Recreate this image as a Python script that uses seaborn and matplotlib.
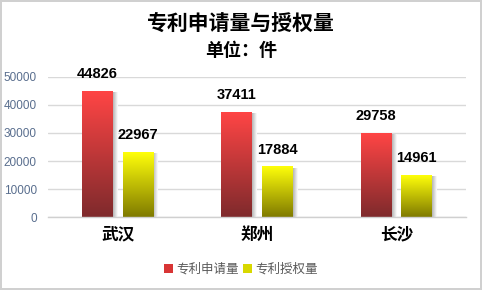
import matplotlib
matplotlib.use("Agg")
import matplotlib.pyplot as plt
import seaborn as sns
import numpy as np
import pandas as pd
from matplotlib.colors import LinearSegmentedColormap
from matplotlib.patches import Patch

cities = ["武汉", "郑州", "长沙"]
series_names = ["专利申请量", "专利授权量"]
applications = [44826, 37411, 29758]
grants = [22967, 17884, 14961]
yticks = [0, 10000, 20000, 30000, 40000, 50000]

sns.set_theme(style="white")
plt.rcParams['font.family'] = ['Noto Sans CJK SC', 'DejaVu Sans']

df = pd.DataFrame({
    "city": cities * 2,
    "series": [series_names[0]] * 3 + [series_names[1]] * 3,
    "value": applications + grants,
})

fig = plt.figure(figsize=(4.82, 2.90), dpi=100)
fig.patch.set_edgecolor("#d0d0d0")
fig.patch.set_linewidth(1.5)
ax = fig.add_axes([0.0996, 0.2517, 0.8674, 0.4828])

sns.barplot(data=df, x="city", y="value", hue="series", ax=ax,
            palette=["#ff4444", "#ffff00"], width=0.58, gap=0.24,
            legend=False, saturation=1)

grads = {
    0: LinearSegmentedColormap.from_list("r", ["#7e2a2c", "#ff4545"]),
    1: LinearSegmentedColormap.from_list("y", ["#7f7a00", "#ffff0a"]),
}
shadow_cmap = LinearSegmentedColormap.from_list("s", ["#b4b4b4", "#ffffff"])
grad = np.linspace(0, 1, 256).reshape(-1, 1)
hgrad = np.linspace(0, 1, 64).reshape(1, -1)

patches = list(ax.patches)
for i, p in enumerate(patches):
    s = i // 3
    x0, y0 = p.get_x(), p.get_y()
    w, h = p.get_width(), p.get_height()
    ax.imshow(hgrad, cmap=shadow_cmap, aspect="auto", origin="lower",
              extent=[x0 + w, x0 + w + 0.035, y0, y0 + h - 400], zorder=1.5)
    ax.imshow(grad, cmap=grads[s], aspect="auto", origin="lower",
              extent=[x0, x0 + w, y0, y0 + h], zorder=2, clip_path=p, clip_on=True)
    p.set_facecolor("none")
    p.set_edgecolor("none")
    ax.text(x0 + w / 2, y0 + h + 3700, f"{int(h)}", ha="center", va="bottom",
            fontsize=10.5, fontweight="bold", color="black", zorder=3,
            family=["Liberation Sans"])

ax.set_xlim(-0.5, 2.5)
ax.set_ylim(0, 50000)
ax.set_yticks(yticks)
ax.set_yticklabels([str(t) for t in yticks], color="#596e8e", fontsize=8.5,
                   family=["Liberation Sans"])
ax.tick_params(axis="y", length=0, pad=8)
ax.tick_params(axis="x", length=0, pad=6)
ax.set_xticks(range(3))
ax.set_xticklabels(cities, fontsize=12, fontweight="bold", color="black")
ax.set_xlabel("")
ax.set_ylabel("")
ax.grid(axis="y", color="#d9d9d9", linewidth=1)
ax.set_axisbelow(True)
for side in ["left", "right", "top"]:
    ax.spines[side].set_visible(False)
ax.spines["bottom"].set_color("#d0d0d0")
ax.spines["bottom"].set_linewidth(1)

fig.text(0.5, 0.92, "专利申请量与授权量", ha="center", va="center",
         fontsize=15, fontweight="bold", color="black")
fig.text(0.5, 0.825, "单位：件", ha="center", va="center",
         fontsize=13, fontweight="bold", color="black")

handles = [Patch(facecolor="#d83535", edgecolor="none"),
           Patch(facecolor="#d8d800", edgecolor="none")]
fig.legend(handles, series_names, loc="center", bbox_to_anchor=(0.5, 0.072),
           ncol=2, frameon=False, fontsize=9, handlelength=0.7, handleheight=0.7,
           handletextpad=0.3, columnspacing=0.3, labelcolor="#595959")

fig.savefig("out.png", dpi=100, edgecolor=fig.get_edgecolor())
